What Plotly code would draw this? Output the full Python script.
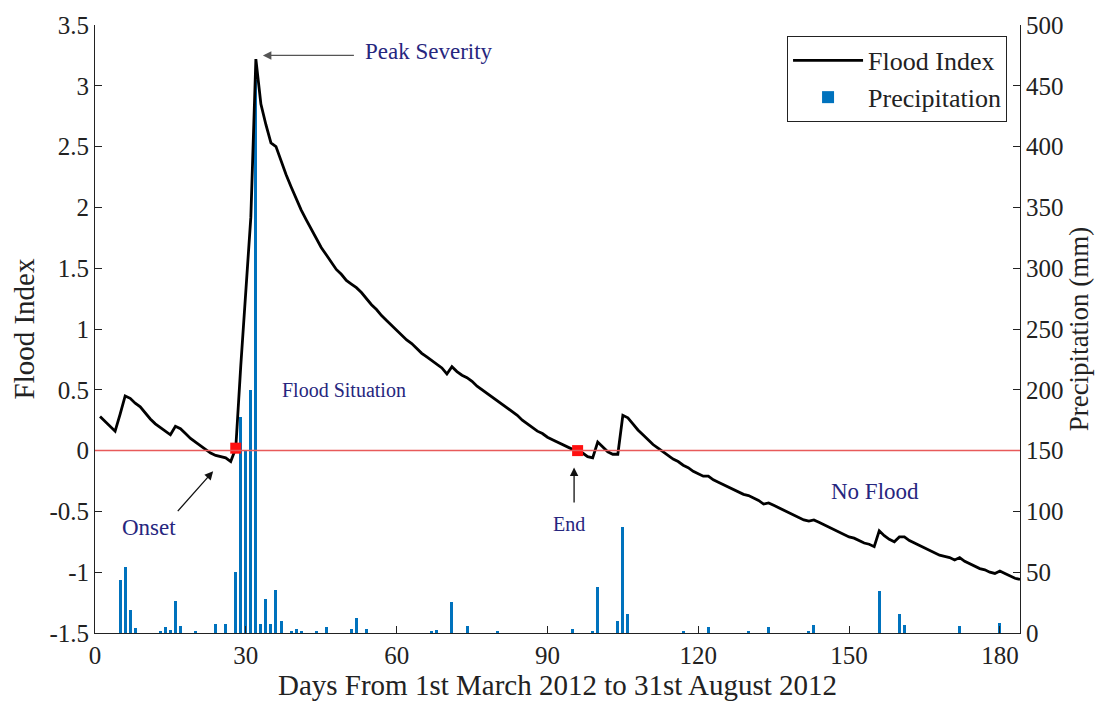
import plotly.graph_objects as go

# ---------------- data ----------------
days = list(range(1, 185))
flood_index = [
    0.28, 0.24, 0.20, 0.16, 0.30, 0.45, 0.43, 0.39, 0.36, 0.31,   # 1-10
    0.26, 0.22, 0.19, 0.16, 0.13, 0.20, 0.18, 0.14, 0.10, 0.07,   # 11-20
    0.04, 0.01, -0.02, -0.04, -0.05, -0.06, -0.09, 0.02, 0.70, 1.35,  # 21-30
    1.92, 3.22, 2.85, 2.68, 2.53, 2.50, 2.38, 2.27, 2.17, 2.07,   # 31-40
    1.98, 1.90, 1.82, 1.74, 1.67, 1.61, 1.55, 1.49, 1.45, 1.40,   # 41-50
    1.37, 1.34, 1.30, 1.25, 1.20, 1.16, 1.11, 1.07, 1.03, 0.99,   # 51-60
    0.95, 0.91, 0.88, 0.84, 0.80, 0.77, 0.74, 0.71, 0.68, 0.63,   # 61-70
    0.69, 0.65, 0.62, 0.60, 0.57, 0.53, 0.50, 0.47, 0.44, 0.41,   # 71-80
    0.38, 0.35, 0.32, 0.29, 0.25, 0.22, 0.19, 0.16, 0.14, 0.11,   # 81-90
    0.09, 0.07, 0.05, 0.03, 0.01, 0.00, -0.02, -0.05, -0.06, 0.07,  # 91-100
    0.03, -0.01, -0.03, -0.03, 0.29, 0.27, 0.22, 0.17, 0.13, 0.09,  # 101-110
    0.05, 0.02, -0.01, -0.04, -0.07, -0.09, -0.12, -0.14, -0.17, -0.19,  # 111-120
    -0.21, -0.21, -0.24, -0.26, -0.28, -0.30, -0.32, -0.34, -0.36, -0.37,  # 121-130
    -0.39, -0.41, -0.44, -0.43, -0.45, -0.47, -0.49, -0.51, -0.53, -0.55,  # 131-140
    -0.57, -0.58, -0.57, -0.59, -0.61, -0.63, -0.65, -0.67, -0.69, -0.71,  # 141-150
    -0.72, -0.74, -0.76, -0.77, -0.79, -0.66, -0.70, -0.73, -0.75, -0.71,  # 151-160
    -0.71, -0.74, -0.76, -0.78, -0.80, -0.82, -0.84, -0.86, -0.87, -0.88,  # 161-170
    -0.90, -0.88, -0.91, -0.93, -0.95, -0.97, -0.98, -1.00, -1.01, -0.99,  # 171-180
    -1.01, -1.03, -1.05, -1.06,                                            # 181-184
]

precip_days = [5, 6, 7, 8, 13, 14, 15, 16, 17, 20, 24, 26, 28, 29, 30, 31, 32, 33, 34, 35,
               36, 37, 39, 40, 41, 44, 46, 51, 52, 54, 67, 68, 71, 74, 80, 95, 99, 100, 104, 105,
               106, 117, 122, 130, 134, 142, 143, 156, 160, 161, 172, 180]
precip_mm = [44, 54, 19, 4, 1.5, 5, 2.5, 26, 5.5, 1.4, 7.5, 7.5, 50, 178, 150, 200, 455, 7.5, 28, 7.5,
             35, 10, 1.6, 3.5, 2, 1.6, 5, 3, 12, 3, 1, 2.5, 25.5, 5.5, 1, 3, 1, 37.5, 10, 87,
             16, 1, 5, 1, 5, 1.5, 6.5, 34.5, 16, 6.5, 5.5, 8.5]

event_days = [28, 96]
event_values = [0.02, 0.0]

x_ticks = [0, 30, 60, 90, 120, 150, 180]
fi_ticks = [-1.5, -1, -0.5, 0, 0.5, 1, 1.5, 2, 2.5, 3, 3.5]
fi_tick_text = ["-1.5", "-1", "-0.5", "0", "0.5", "1", "1.5", "2", "2.5", "3", "3.5"]
pr_ticks = [0, 50, 100, 150, 200, 250, 300, 350, 400, 450, 500]

FONT = "Liberation Serif"
TXT = "#26267e"

fig = go.Figure()
fig.add_trace(go.Bar(
    x=precip_days, y=precip_mm, name="Precipitation", yaxis="y",
    width=0.6, marker=dict(color="#0072BD", line=dict(width=0)),
))
fig.add_trace(go.Scatter(
    x=days, y=flood_index, name="Flood Index", yaxis="y2", mode="lines",
    line=dict(color="black", width=2.8),
))
fig.add_trace(go.Scatter(
    x=event_days, y=event_values, yaxis="y2", mode="markers", showlegend=False,
    marker=dict(symbol="square", size=11, color="#ff1010"),
))

axis_common = dict(
    showline=True, linecolor="#222", linewidth=1, ticks="inside", ticklen=7,
    tickcolor="#222", showgrid=False, zeroline=False,
    tickfont=dict(family=FONT, size=25, color="#222"),
)

fig.update_layout(
    width=1111, height=708,
    margin=dict(l=95, r=91, t=22, b=75),
    plot_bgcolor="white", paper_bgcolor="white",
    font=dict(family=FONT, color="#222"),
    bargap=0,
    xaxis=dict(range=[0, 184], tickvals=x_ticks, mirror=False,
               title=dict(text="Days From 1st March 2012 to 31st August 2012",
                          font=dict(family=FONT, size=29), standoff=4),
               **axis_common),
    yaxis=dict(range=[0, 500], tickvals=pr_ticks, side="right",
               title=dict(text="Precipitation (mm)", font=dict(family=FONT, size=27), standoff=6),
               **axis_common),
    yaxis2=dict(range=[-1.5, 3.5], tickvals=fi_ticks, ticktext=fi_tick_text,
                overlaying="y", side="left",
                title=dict(text="Flood Index", font=dict(family=FONT, size=29), standoff=6),
                **axis_common),
    legend=dict(x=0.986, y=0.982, xanchor="right", yanchor="top",
                bgcolor="white", bordercolor="#222", borderwidth=1,
                font=dict(family=FONT, size=26, color="#222"),
                traceorder="reversed", itemwidth=70, tracegroupgap=2),
    shapes=[dict(type="line", xref="x", yref="y2", x0=0, x1=184, y0=0, y1=0,
                 line=dict(color="#e85a5a", width=1.5), layer="above")],
)

big = dict(family=FONT, size=23, color=TXT)
small = dict(family=FONT, size=20, color=TXT)
annotations = [
    dict(x=66.4, y=3.28, text="Peak Severity", showarrow=False, font=big),
    dict(x=49.6, y=0.5, text="Flood Situation", showarrow=False, font=small),
    dict(x=10.7, y=-0.63, text="Onset", showarrow=False, font=big),
    dict(x=94.3, y=-0.6, text="End", showarrow=False, font=small),
    dict(x=155.2, y=-0.34, text="No Flood", showarrow=False, font=big),
]
for a in annotations:
    a.update(xref="x", yref="y2")
arrows = [
    dict(x=33.4, y=3.25, ax=51.8, ay=3.25, arrowcolor="#555"),
    dict(x=23.5, y=-0.17, ax=16.2, ay=-0.51, arrowcolor="#111"),
    dict(x=95.3, y=-0.14, ax=95.3, ay=-0.44, arrowcolor="#111"),
]
for a in arrows:
    a.update(xref="x", yref="y2", axref="x", ayref="y2", text="", showarrow=True,
             arrowhead=2, arrowsize=1.3, arrowwidth=1.3)
fig.update_layout(annotations=annotations + arrows)

fig.write_html("out.html")
